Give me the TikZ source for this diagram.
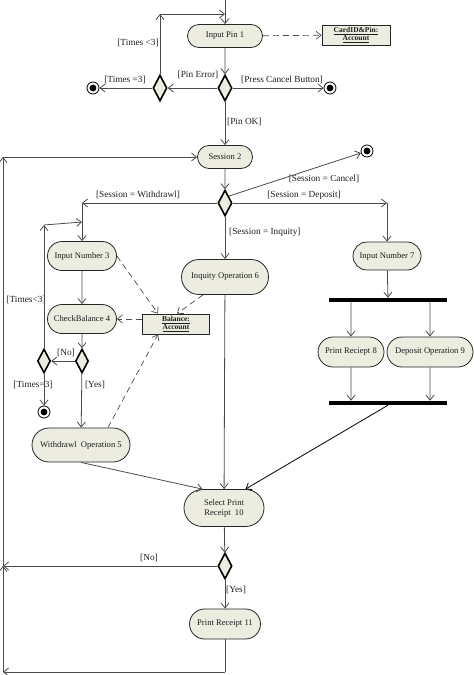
\documentclass[tikz,border=0pt]{standalone}
\usepackage{fontspec}
\setmainfont{Liberation Serif}
\usetikzlibrary{arrows.meta,shapes.geometric,shapes.misc,calc}
\definecolor{actfill}{RGB}{236,236,224}
\definecolor{ln}{RGB}{75,75,75}
\definecolor{tx}{RGB}{30,30,30}
\tikzset{
  act/.style={rounded rectangle, draw=black!85, line width=0.8pt, fill=actfill, inner sep=1pt, text=tx, font=\fontsize{8.6}{10}\selectfont, align=center},
  obj/.style={rectangle, draw=black!85, line width=0.8pt, fill=actfill, inner sep=1pt, text=tx, font=\fontsize{7.5}{8.5}\selectfont\bfseries, align=center},
  dec/.style={diamond, draw=black, line width=1.6pt, fill=actfill, minimum width=14pt, minimum height=26pt, inner sep=0pt},
  fin/.style={circle, draw=black, line width=0.8pt, fill=white, minimum size=12pt, inner sep=0pt, path picture={\fill[black] (path picture bounding box.center) circle (3.4pt);}},
  bar/.style={rectangle, fill=black, minimum width=118pt, minimum height=4pt, inner sep=0pt},
  lab/.style={font=\fontsize{9.3}{11}\selectfont, text=tx, inner sep=0pt},
  flow/.style={draw=ln, line width=0.8pt, -{Straight Barb[length=5pt,width=8pt]}},
  plain/.style={draw=ln, line width=0.8pt},
  dep/.style={draw=ln, line width=0.7pt, dash pattern=on 6pt off 4pt, -{Straight Barb[length=5pt,width=8pt]}},
}
\begin{document}
\begin{tikzpicture}[x=1pt,y=-1pt]
\useasboundingbox (0,0) rectangle (474,675);
% nodes
\node[act, minimum width=77pt, minimum height=23pt] (in1) at (225,36) {Input Pin 1};
\node[obj, minimum width=68pt, minimum height=20pt] (cpa) at (356,35) {\underline{CardID\&Pin:}\\[-1pt]\underline{Account}};
\node[dec] (d1) at (225,88) {};
\node[dec] (d2) at (160,88) {};
\node[fin] (f1) at (93,88) {};
\node[fin] (f2) at (330,88) {};
\node[act, minimum width=57pt, minimum height=23pt] (s2) at (225,157) {Session 2};
\node[dec] (d3) at (225,203) {};
\node[fin] (f3) at (367,151) {};
\node[act, minimum width=71pt, minimum height=29pt] (in3) at (82,256) {Input Number 3};
\node[act, minimum width=71pt, minimum height=29pt] (cb4) at (82,319) {CheckBalance 4};
\node[dec, minimum width=13pt, minimum height=24pt] (d4a) at (44,361) {};
\node[dec, minimum width=13pt, minimum height=24pt] (d4b) at (82,361) {};
\node[fin] (f4) at (44,412) {};
\node[act, minimum width=100pt, minimum height=34pt] (wo5) at (81,445) {Withdrawl\ \ Operation 5};
\node[obj, minimum width=67pt, minimum height=20pt] (bal) at (176,324) {\underline{Balance:}\\[-1pt]\underline{Account}};
\node[act, minimum width=89pt, minimum height=35pt] (io6) at (225,277) {Inquity Operation 6};
\node[act, minimum width=70pt, minimum height=28pt] (in7) at (387,256) {Input Number 7};
\node[bar] (bar1) at (388,300) {};
\node[act, minimum width=68pt, minimum height=30pt] (pr8) at (351,352) {Print Reciept 8};
\node[act, minimum width=88pt, minimum height=30pt] (dp9) at (430,352) {Deposit Operation 9};
\node[bar] (bar2) at (388,403) {};
\node[act, minimum width=82pt, minimum height=37pt] (sp10) at (224,508) {Select Print\\Receipt\ \ 10};
\node[dec] (d5) at (225,566) {};
\node[act, minimum width=73pt, minimum height=30pt] (pr11) at (225,624) {Print Receipt 11};
% helper coordinates
\coordinate (t0) at (225,0);
\coordinate (t1) at (225,14);
\coordinate (lp) at (160,14);
\coordinate (cw) at (82,203);
\coordinate (cd) at (387,203);
\coordinate (lp4) at (44,225);
\coordinate (lp4e) at (82,222);
\coordinate (ln) at (3,566);
\coordinate (lb) at (3,672);
\coordinate (lt) at (3,157);
\coordinate (bb) at (225,672);
% labels
\node[lab] (l1) at (138,43) {[Times <3]};
\node[lab] (l2) at (125,80) {[Times =3]};
\node[lab] (l3) at (198,75) {[Pin Error]};
\node[lab] (l4) at (282,80) {[Press Cancel Button]};
\node[lab, anchor=west] (l5) at (227,122) {[Pin OK]};
\node[lab] (l6) at (324,179) {[Session = Cancel]};
\node[lab] (l7) at (138,195) {[Session = Withdrawl]};
\node[lab] (l8) at (304,195) {[Session = Deposit]};
\node[lab, anchor=west] (l9) at (229,232) {[Session = Inquity]};
\node[lab] (l10) at (26,300) {[Times<3]};
\node[lab] (l11) at (66,353) {[No]};
\node[lab] (l12) at (33,385) {[Times=3]};
\node[lab] (l13) at (95,385) {[Yes]};
\node[lab] (l14) at (149,558) {[No]};
\node[lab, anchor=west] (l15) at (226,590) {[Yes]};
% connectors top
\draw[flow] (t0) -- (in1);
\draw[flow] (d2) -- (lp);
\draw[flow] (lp) -- (t1);
\draw[dep] (in1) -- (cpa);
\draw[flow] (in1) -- (d1);
\draw[flow] (d1) -- (d2);
\draw[flow] (d1) -- (f2);
\draw[flow] (d2) -- (f1);
\draw[flow] (d1) -- (s2);
\draw[flow] (s2) -- (d3);
\draw[flow] (d3.north east) -- (f3);
\draw[flow] (d3) -- (cw);
\draw[flow] (cw) -- (in3);
\draw[flow] (d3) -- (cd);
\draw[flow] (cd) -- (in7);
\draw[flow] (d3) -- (io6);
% withdraw branch
\draw[flow] (in3) -- (cb4);
\draw[flow] (cb4) -- (d4b);
\draw[flow] (d4b) -- (d4a);
\draw[flow] (d4a) -- (f4);
\draw[flow] (d4a) -- (lp4);
\draw[flow] (lp4) -- (lp4e);
\draw[flow] (d4b) -- (wo5);
\draw[dep] (in3.east) -- ([xshift=-18pt]bal.north);
\draw[dep] ([xshift=-22pt]io6.south) -- ([xshift=1pt]bal.north);
\draw[dep] (bal.west |- cb4.east) -- (cb4.east);
\draw[dep] ([xshift=27pt]wo5.north) -- ([xshift=-18pt]bal.south);
% merge
\draw[flow] (wo5.south) -- (sp10.north west);
\draw[flow] (io6) -- (sp10);
% deposit branch
\draw[flow] (in7) -- (bar1);
\draw[flow] (bar1.south -| pr8) -- (pr8);
\draw[flow] (bar1.south -| dp9) -- (dp9);
\draw[flow] (pr8) -- (bar2.north -| pr8);
\draw[flow] (dp9) -- (bar2.north -| dp9);
\draw[flow, draw=black] (bar2.south) -- (sp10.north east);
% bottom
\draw[flow] (sp10) -- (d5);
\draw[flow] (d5) -- (ln);
\draw[flow] (d5) -- (pr11);
\draw[plain] (pr11) -- (bb);
\draw[flow] (bb) -- (lb);
\draw[flow] (lb) -- (ln);
\draw[flow] (ln) -- (lt);
\draw[flow] (lt) -- (s2);
\end{tikzpicture}
\end{document}
